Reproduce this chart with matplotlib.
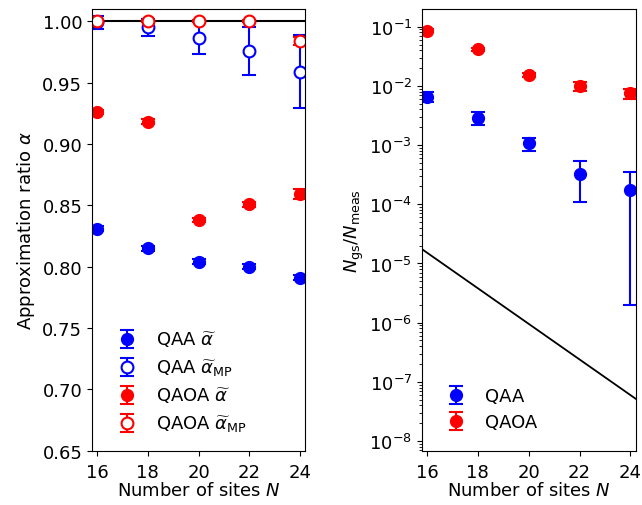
import matplotlib.pyplot as plt
from matplotlib.ticker import NullFormatter
import numpy as np

plt.rcParams['font.size'] = 13
plt.rcParams['mathtext.fontset'] = 'dejavusans'
plt.rcParams['xtick.major.pad'] = 5.5

sites = np.array([16, 18, 20, 22, 24])

# approximation ratios (left panel)
qaa_alpha = [0.831, 0.815, 0.804, 0.800, 0.791]
qaa_alpha_err = [0.002, 0.002, 0.002, 0.002, 0.002]
qaa_alpha_mp = [0.999, 0.995, 0.986, 0.9755, 0.959]
qaa_alpha_mp_err = [0.005, 0.007, 0.013, 0.0195, 0.030]
qaoa_alpha = [0.926, 0.918, 0.838, 0.851, 0.859]
qaoa_alpha_err = [0.002, 0.002, 0.002, 0.002, 0.004]
qaoa_alpha_mp = [1.0, 1.0, 1.0, 1.0, 0.984]
qaoa_alpha_mp_err = [0.001, 0.001, 0.001, 0.001, 0.003]

# ground state probability (right panel)
qaa_gs = [0.0066, 0.0029, 0.00107, 0.00032, 0.000176]
qaa_gs_err = [0.0012, 0.00068, 0.00027, 0.00021, 0.000174]
qaoa_gs = [0.0856, 0.042, 0.0153, 0.0099, 0.0075]
qaoa_gs_err = [0.005, 0.0025, 0.0012, 0.0018, 0.0015]

fig = plt.figure(figsize=(6.42, 5.06), dpi=100)
ax1 = fig.add_axes([0.1433, 0.1073, 0.3318, 0.873])
ax2 = fig.add_axes([0.657, 0.1073, 0.333, 0.873])

kw = dict(fmt='o', markersize=8.5, capsize=5, elinewidth=1.5, capthick=1.5)

ax1.axhline(1.0, color='black', lw=1.5, zorder=1)
ax1.errorbar(sites, qaa_alpha, yerr=qaa_alpha_err, color='blue',
             label=r'QAA $\widetilde{\alpha}$', **kw)
ax1.errorbar(sites, qaa_alpha_mp, yerr=qaa_alpha_mp_err, color='blue',
             mfc='white', mew=1.5, label=r'QAA $\widetilde{\alpha}_{\mathrm{MP}}$', **kw)
ax1.errorbar(sites, qaoa_alpha, yerr=qaoa_alpha_err, color='red',
             label=r'QAOA $\widetilde{\alpha}$', **kw)
ax1.errorbar(sites, qaoa_alpha_mp, yerr=qaoa_alpha_mp_err, color='red',
             mfc='white', mew=1.5, label=r'QAOA $\widetilde{\alpha}_{\mathrm{MP}}$', **kw)
ax1.set_xlim(15.8, 24.2)
ax1.set_ylim(0.65, 1.01)
ax1.set_xticks(sites)
ax1.set_yticks(np.arange(0.65, 1.001, 0.05))
ax1.set_xlabel(r'Number of sites $N$', labelpad=0)
ax1.set_ylabel(r'Approximation ratio $\alpha$')
ax1.legend(loc='lower left', frameon=False, bbox_to_anchor=(0.005, 0.001),
           handletextpad=0.6, labelspacing=0.42)

# 2^-N reference
n_line = np.linspace(15.5, 24.5, 50)
ax2.plot(n_line, 2.0 ** (-n_line), color='black', lw=1.3)
ax2.errorbar(sites, qaa_gs, yerr=qaa_gs_err, color='blue', label='QAA', **kw)
ax2.errorbar(sites, qaoa_gs, yerr=qaoa_gs_err, color='red', label='QAOA', **kw)
ax2.set_yscale('log')
ax2.set_xlim(15.8, 24.2)
ax2.set_ylim(10 ** -8.164, 10 ** -0.70)
ax2.yaxis.set_minor_formatter(NullFormatter())
ax2.set_xticks(sites)
ax2.set_xlabel(r'Number of sites $N$', labelpad=0)
ax2.set_ylabel(r'$N_{\mathrm{gs}}/N_{\mathrm{meas}}$', labelpad=2)
ax2.legend(loc='lower left', frameon=False, bbox_to_anchor=(0.0, 0.008),
           handletextpad=0.6, labelspacing=0.42)

fig.savefig('out.png')
